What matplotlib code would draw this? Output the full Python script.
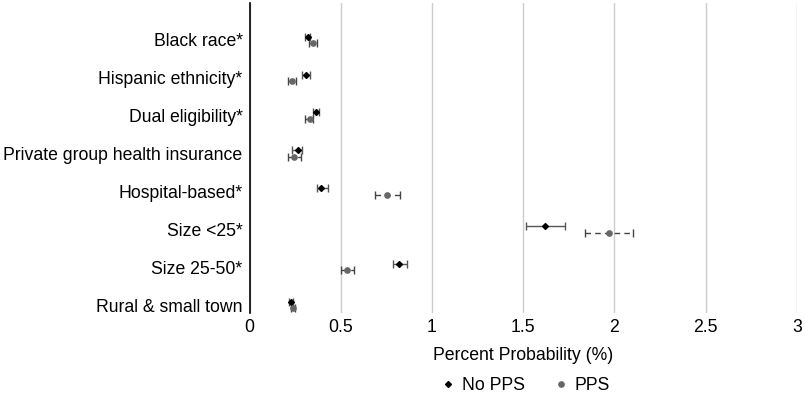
import matplotlib.pyplot as plt
from matplotlib.lines import Line2D
import numpy as np

plt.rcParams['font.family'] = ['Liberation Sans', 'DejaVu Sans']

categories = ["Black race*", "Hispanic ethnicity*", "Dual eligibility*",
              "Private group health insurance", "Hospital-based*", "Size <25*",
              "Size 25-50*", "Rural & small town"]

no_pps = [0.32, 0.31, 0.365, 0.265, 0.394, 1.62, 0.821, 0.228]
no_pps_lo = [0.303, 0.285, 0.349, 0.233, 0.368, 1.516, 0.784, 0.215]
no_pps_hi = [0.334, 0.332, 0.383, 0.29, 0.43, 1.73, 0.861, 0.24]

pps = [0.35, 0.23, 0.33, 0.245, 0.754, 1.97, 0.536, 0.237]
pps_lo = [0.328, 0.21, 0.306, 0.21, 0.686, 1.84, 0.502, 0.225]
pps_hi = [0.37, 0.253, 0.345, 0.283, 0.822, 2.10, 0.573, 0.25]

fs = 12.7

fig = plt.figure(figsize=(8.05, 4), dpi=100)
ax = fig.add_axes([0.310, 0.2175, 0.680, 0.775])

y = np.arange(len(categories))
off = 0.085

no_pps = np.array(no_pps)
pps = np.array(pps)
err1 = [no_pps - np.array(no_pps_lo), np.array(no_pps_hi) - no_pps]
err2 = [pps - np.array(pps_lo), np.array(pps_hi) - pps]

ax.errorbar(no_pps, y - off, xerr=err1, fmt='D', color='black', ms=3,
            ecolor='#555555', elinewidth=1, capsize=3, zorder=3)
eb = ax.errorbar(pps, y + off, xerr=err2, fmt='o', color='#666666', ms=3.8,
                 ecolor='#444444', elinewidth=1, capsize=3, zorder=3)
eb[2][0].set_linestyle((0, (4, 3)))

ax.set_ylim(7.21, -0.976)
ax.set_xlim(0, 3)
ax.set_xticks([0, 0.5, 1, 1.5, 2, 2.5, 3])
ax.set_xticklabels(['0', '0.5', '1', '1.5', '2', '2.5', '3'])
ax.set_yticks(y)
ax.set_yticklabels(categories)
ax.tick_params(axis='both', length=0, labelsize=fs)
ax.tick_params(axis='y', pad=5)
ax.tick_params(axis='x', pad=4)
ax.grid(axis='x', color='#cccccc', linewidth=1)
ax.set_axisbelow(True)
for s in ['top', 'right', 'bottom']:
    ax.spines[s].set_visible(False)
ax.spines['left'].set_linewidth(1.2)

ax.set_xlabel('Percent Probability (%)', fontsize=fs, labelpad=8)

handles = [Line2D([], [], marker='D', color='black', ms=3, ls='none'),
           Line2D([], [], marker='o', color='#666666', ms=3.8, ls='none')]
fig.legend(handles, ['No PPS', 'PPS'], loc='center', bbox_to_anchor=(0.654, 0.035),
           ncol=2, frameon=False, fontsize=fs, handlelength=0.6,
           columnspacing=1.7, handletextpad=0.5)

fig.savefig('out.png', dpi=100)
